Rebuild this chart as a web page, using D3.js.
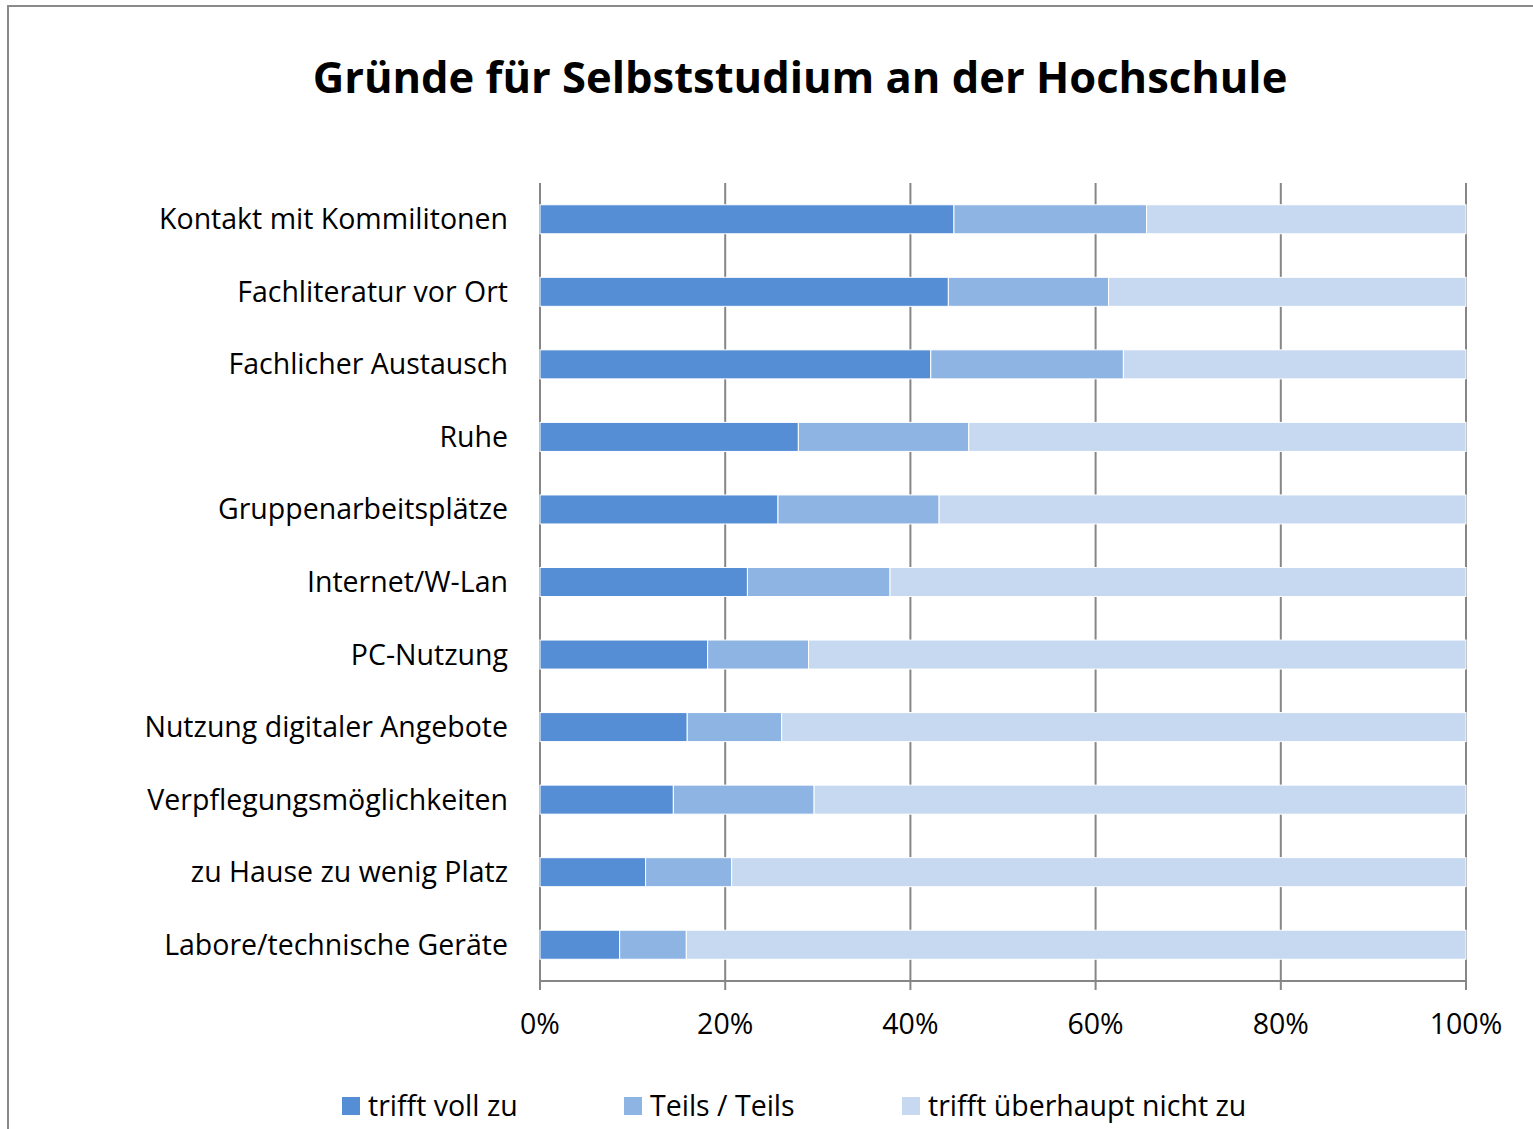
<!DOCTYPE html>
<html>
<head>
<meta charset="utf-8">
<script src="https://cdn.jsdelivr.net/npm/d3@7"></script>
<style>
	body { margin: 0; background: #fff; }
	svg { display: block; }
</style>
</head>
<body>
<div id="chart"></div>
<script>
// data (percent of answers)
const categories = [
	"Kontakt mit Kommilitonen",
	"Fachliteratur vor Ort",
	"Fachlicher Austausch",
	"Ruhe",
	"Gruppenarbeitsplätze",
	"Internet/W-Lan",
	"PC-Nutzung",
	"Nutzung digitaler Angebote",
	"Verpflegungsmöglichkeiten",
	"zu Hause zu wenig Platz",
	"Labore/technische Geräte"
];
const seriesNames = ["trifft voll zu", "Teils / Teils", "trifft überhaupt nicht zu"];
const voll = [44.7, 44.1, 42.2, 27.9, 25.7, 22.4, 18.1, 15.9, 14.4, 11.4, 8.6];
const teils = [20.8, 17.3, 20.8, 18.4, 17.4, 15.4, 10.9, 10.2, 15.2, 9.3, 7.2];
const nicht = [34.5, 38.6, 37.0, 53.7, 56.9, 62.2, 71.0, 73.9, 70.4, 79.3, 84.2];
const tickValues = [0, 0.2, 0.4, 0.6, 0.8, 1];
const colors = ["#558ed5", "#8eb4e3", "#c6d9f1"];

var width = 1533,
	height = 1129;
const font = "'Open Sans', Calibri, sans-serif";
const labelFont = `28.5px ${font}`;

const rows = categories.map((c, i) => {
	const total = voll[i] + teils[i] + nicht[i];
	return { cat: c, s0: voll[i] / total, s1: teils[i] / total, s2: nicht[i] / total };
});
const stack = d3.stack().keys(["s0", "s1", "s2"]);
const series = stack(rows);

var svg = d3
	.select("#chart")
	.append("svg")
	.attr("width", width)
	.attr("height", height);

// outer frame
svg.append("rect")
	.attr("x", 8)
	.attr("y", 6)
	.attr("width", width + 10)
	.attr("height", height + 10)
	.attr("fill", "none")
	.attr("stroke", "#8a8a8a")
	.attr("stroke-width", 2);

svg.append("text")
	.attr("x", 800)
	.attr("y", 93)
	.attr("text-anchor", "middle")
	.style("font", `bold 43.5px ${font}`)
	.text("Gründe für Selbststudium an der Hochschule");

const plotLeft = 540, plotRight = 1466, plotTop = 183, plotBottom = 981;

var x = d3.scaleLinear().domain([0, 1]).range([plotLeft, plotRight]);
var y = d3.scaleBand().domain(categories).range([plotTop, plotBottom]).paddingInner(0.6).paddingOuter(0.3);

// gridlines + ticks
svg.append("g")
	.selectAll("line")
	.data(tickValues)
	.join("line")
	.attr("x1", (d) => x(d))
	.attr("x2", (d) => x(d))
	.attr("y1", plotTop)
	.attr("y2", plotBottom + 9)
	.attr("stroke", "#868686")
	.attr("stroke-width", 2);

svg.append("line")
	.attr("x1", plotLeft)
	.attr("x2", plotRight)
	.attr("y1", plotBottom)
	.attr("y2", plotBottom)
	.attr("stroke", "#868686")
	.attr("stroke-width", 2);

// bars
svg.append("g")
	.selectAll("g")
	.data(series)
	.join("g")
	.attr("fill", (d, i) => colors[i])
	.selectAll("rect")
	.data((d) => d)
	.join("rect")
	.attr("x", (d) => x(d[0]))
	.attr("y", (d) => y(d.data.cat))
	.attr("width", (d) => x(d[1]) - x(d[0]))
	.attr("height", y.bandwidth())
	.attr("stroke", "#fff")
	.attr("stroke-width", 1);

// category labels
svg.append("g")
	.selectAll("text")
	.data(categories)
	.join("text")
	.attr("x", 508)
	.attr("y", (d) => y(d) + y.bandwidth() / 2)
	.attr("dy", "0.35em")
	.attr("text-anchor", "end")
	.style("font", labelFont)
	.text((d) => d);

// x tick labels
svg.append("g")
	.selectAll("text")
	.data(tickValues)
	.join("text")
	.attr("x", (d) => x(d))
	.attr("y", 1034)
	.attr("text-anchor", "middle")
	.style("font", labelFont)
	.text(d3.format(".0%"));

// legend
const legendX = [342, 624, 902];
const legend = svg.append("g")
	.selectAll("g")
	.data(seriesNames)
	.join("g")
	.attr("transform", (d, i) => `translate(${legendX[i]},1097)`);
legend.append("rect")
	.attr("width", 18)
	.attr("height", 18)
	.attr("fill", (d, i) => colors[i]);
legend.append("text")
	.attr("x", 26)
	.attr("y", 19)
	.style("font", labelFont)
	.text((d) => d);
</script>
</body>
</html>
